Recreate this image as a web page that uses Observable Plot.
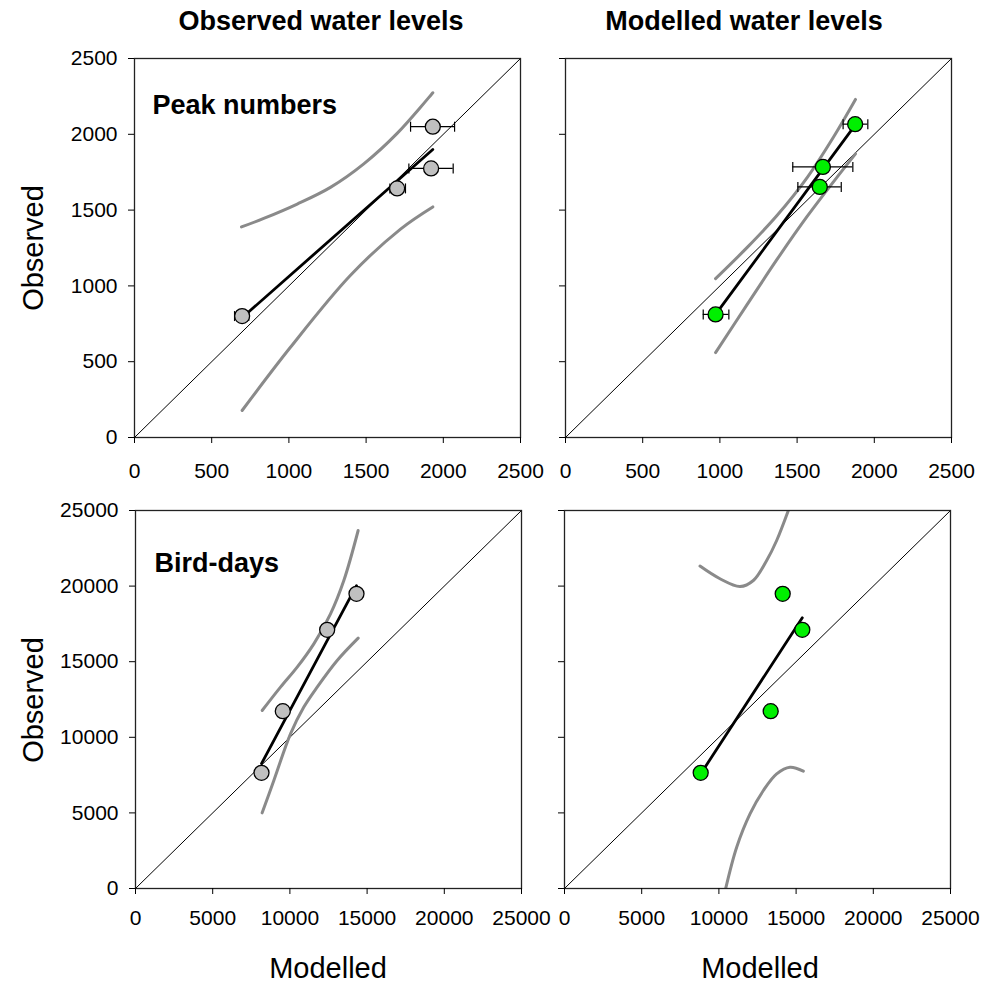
<!DOCTYPE html>
<html>
<head>
<meta charset="utf-8">
<script src="https://cdn.jsdelivr.net/npm/d3@7"></script>
<script src="https://cdn.jsdelivr.net/npm/@observablehq/plot@0.6"></script>
<style>
  body { margin: 0; background: #fff; }
  #chart { position: relative; width: 995px; height: 983px; font-family: "Liberation Sans", Arial, sans-serif; }
  #chart svg { position: absolute; overflow: visible; max-width: none; }
  #chart svg g[aria-label="x-axis tick label"] text,
  #chart svg g[aria-label="y-axis tick label"] text { font-size: 21px; }
</style>
</head>
<body>
<div id="chart"></div>
<script>
// ---------- axis definitions ----------
const domainTop = [0, 2500];
const domainBottom = [0, 25000];
const ticksTop = [0, 500, 1000, 1500, 2000, 2500];
const ticksBottom = [0, 5000, 10000, 15000, 20000, 25000];

// ---------- Peak numbers, observed water levels ----------
const peakObsX = [697, 1701, 1921, 1932];
const peakObsY = [801, 1643, 1775, 2050];
const peakObsErrLo = [648, 1654, 1777, 1788];
const peakObsErrHi = [740, 1755, 2064, 2073];
const peakObsRegX = [697, 1932];
const peakObsRegY = [790, 1900];
const peakObsUpperX = [693, 837, 1054, 1269, 1485, 1701, 1932];
const peakObsUpperY = [1389, 1445, 1540, 1650, 1805, 2006, 2274];
const peakObsLowerX = [697, 1010, 1399, 1723, 1932];
const peakObsLowerY = [178, 595, 1070, 1375, 1521];

// ---------- Peak numbers, modelled water levels ----------
const peakModX = [972, 1647, 1667, 1876];
const peakModY = [812, 1653, 1785, 2067];
const peakModErrLo = [892, 1505, 1472, 1798];
const peakModErrHi = [1058, 1786, 1861, 1958];
const peakModRegX = [972, 1876];
const peakModRegY = [812, 2060];
const peakModUpperX = [972, 1177, 1371, 1565, 1738, 1878];
const peakModUpperY = [1048, 1254, 1466, 1715, 1986, 2230];
const peakModLowerX = [972, 1177, 1371, 1565, 1738, 1878];
const peakModLowerY = [560, 878, 1176, 1458, 1690, 1871];

// ---------- Bird-days, observed water levels ----------
const birdObsX = [8161, 9540, 12414, 14313];
const birdObsY = [7652, 11726, 17110, 19490];
const birdObsRegX = [8161, 14313];
const birdObsRegY = [8258, 20028];
const birdObsUpperX = [8204, 9391, 10471, 11550, 12630, 13493, 14421];
const birdObsUpperY = [11772, 13316, 14638, 16181, 18165, 20370, 23677];
const birdObsLowerX = [8204, 8960, 10039, 10902, 11766, 13061, 14421];
const birdObsLowerY = [5004, 7143, 10229, 11997, 13316, 15079, 16557];

// ---------- Bird-days, modelled water levels ----------
const birdModX = [8821, 13355, 14132, 15402];
const birdModY = [7652, 11726, 19490, 17110];
const birdModRegX = [8821, 15402];
const birdModRegY = [7581, 17902];
const birdModUpperX = [8776, 10071, 11367, 12230, 13094, 13742, 14497];
const birdModUpperY = [21323, 20485, 19974, 20370, 21693, 23016, 25000];
const birdModLowerX = [10439, 11151, 12015, 12879, 13742, 14606, 15469];
const birdModLowerY = [0, 2734, 4938, 6481, 7584, 8025, 7760];

// ---------- text ----------
const columnTitles = ["Observed water levels", "Modelled water levels"];
const panelLabels = ["Peak numbers", "Bird-days"];
const yLabel = "Observed";
const xLabel = "Modelled";

const GRAY_FILL = "#c0c0c0";
const GREEN_FILL = "#00f000";
const FONT = "Liberation Sans, Arial, sans-serif";

const capSymbol = {
  draw(ctx, size) {
    const h = Math.sqrt(size / Math.PI);
    ctx.moveTo(0, -h);
    ctx.lineTo(0, h);
  }
};

const zipXY = (xs, ys) => xs.map((x, i) => ({x, y: ys[i]}));

function panel(o) {
  const pts = o.px.map((x, i) => ({
    x, y: o.py[i],
    lo: o.errLo ? o.errLo[i] : null,
    hi: o.errHi ? o.errHi[i] : null
  }));
  const diag = o.domain.map(v => ({x: v, y: v}));
  const marks = [
    Plot.line(diag, {x: "x", y: "y", stroke: "black", strokeWidth: 1}),
    Plot.line(zipXY(o.upX, o.upY), {x: "x", y: "y", stroke: "#8a8a8a", strokeWidth: 3, curve: "catmull-rom", clip: true}),
    Plot.line(zipXY(o.loX, o.loY), {x: "x", y: "y", stroke: "#8a8a8a", strokeWidth: 3, curve: "catmull-rom", clip: true}),
    Plot.line(zipXY(o.regX, o.regY), {x: "x", y: "y", stroke: "black", strokeWidth: 2.8})
  ];
  if (o.errLo) {
    marks.push(Plot.ruleY(pts, {y: "y", x1: "lo", x2: "hi", stroke: "black", strokeWidth: 1.2}));
    marks.push(Plot.dot(pts, {x: "lo", y: "y", symbol: capSymbol, r: 5, stroke: "black", strokeWidth: 1.2, fill: "none"}));
    marks.push(Plot.dot(pts, {x: "hi", y: "y", symbol: capSymbol, r: 5, stroke: "black", strokeWidth: 1.2, fill: "none"}));
  }
  marks.push(Plot.dot(pts, {x: "x", y: "y", r: 7.5, fill: o.fill, stroke: "black", strokeWidth: 1.3}));
  marks.push(Plot.frame({stroke: "#222", strokeWidth: 1.3}));
  marks.push(Plot.axisX({ticks: o.ticks, tickSize: 6, tickPadding: o.tickPadX, tickFormat: d => String(d), fontSize: 21, label: null}));
  marks.push(Plot.axisY({ticks: o.ticks, tickSize: 6, tickPadding: 11,
    tickFormat: o.showY ? (d => String(d)) : (() => ""), fontSize: 21, label: null}));
  if (o.label) {
    marks.push(Plot.text([o.label], {text: d => d, frameAnchor: "top-left", dx: o.labelDx, dy: o.labelDy,
      textAnchor: "start", lineAnchor: "bottom", fontSize: 27, fontWeight: "bold", fill: "black"}));
  }
  const svg = Plot.plot({
    width: o.width, height: o.height,
    marginLeft: o.ml, marginRight: o.mr, marginTop: o.mt, marginBottom: o.mb,
    x: {domain: o.domain, nice: false},
    y: {domain: o.domain, nice: false},
    style: {fontFamily: FONT, fontSize: "21px", color: "black", background: "transparent", overflow: "visible"},
    marks
  });
  svg.style.left = o.left + "px";
  svg.style.top = o.top + "px";
  document.getElementById("chart").appendChild(svg);
}

panel({left: 20, top: 48, width: 525, height: 441, ml: 114, mr: 25, mt: 10, mb: 52,
  domain: domainTop, ticks: ticksTop, tickPadX: 20, showY: true,
  px: peakObsX, py: peakObsY, errLo: peakObsErrLo, errHi: peakObsErrHi,
  regX: peakObsRegX, regY: peakObsRegY, upX: peakObsUpperX, upY: peakObsUpperY,
  loX: peakObsLowerX, loY: peakObsLowerY, fill: GRAY_FILL,
  label: panelLabels[0], labelDx: 18, labelDy: 55});

panel({left: 545, top: 48, width: 436, height: 441, ml: 20, mr: 30, mt: 10, mb: 52,
  domain: domainTop, ticks: ticksTop, tickPadX: 20, showY: false,
  px: peakModX, py: peakModY, errLo: peakModErrLo, errHi: peakModErrHi,
  regX: peakModRegX, regY: peakModRegY, upX: peakModUpperX, upY: peakModUpperY,
  loX: peakModLowerX, loY: peakModLowerY, fill: GREEN_FILL});

panel({left: 20, top: 490, width: 526, height: 448, ml: 115, mr: 25, mt: 20, mb: 50,
  domain: domainBottom, ticks: ticksBottom, tickPadX: 16, showY: true,
  px: birdObsX, py: birdObsY,
  regX: birdObsRegX, regY: birdObsRegY, upX: birdObsUpperX, upY: birdObsUpperY,
  loX: birdObsLowerX, loY: birdObsLowerY, fill: GRAY_FILL,
  label: panelLabels[1], labelDx: 19, labelDy: 61});

panel({left: 544, top: 490, width: 436, height: 448, ml: 20, mr: 30, mt: 20, mb: 50,
  domain: domainBottom, ticks: ticksBottom, tickPadX: 16, showY: false,
  px: birdModX, py: birdModY,
  regX: birdModRegX, regY: birdModRegY, upX: birdModUpperX, upY: birdModUpperY,
  loX: birdModLowerX, loY: birdModLowerY, fill: GREEN_FILL});

// ---------- overlay titles and axis labels ----------
const ov = d3.select("#chart").append("svg")
  .attr("width", 995).attr("height", 983)
  .style("left", "0px").style("top", "0px")
  .style("pointer-events", "none")
  .attr("font-family", FONT);

ov.append("text").attr("x", 321).attr("y", 30).attr("text-anchor", "middle")
  .attr("font-size", 27).attr("font-weight", "bold").text(columnTitles[0]);
ov.append("text").attr("x", 744).attr("y", 30).attr("text-anchor", "middle")
  .attr("font-size", 27).attr("font-weight", "bold").text(columnTitles[1]);

[248, 700].forEach(cy => {
  ov.append("text").attr("transform", `translate(43,${cy}) rotate(-90)`)
    .attr("text-anchor", "middle").attr("font-size", 29).text(yLabel);
});
[328, 760].forEach(cx => {
  ov.append("text").attr("x", cx).attr("y", 978).attr("text-anchor", "middle")
    .attr("font-size", 29).text(xLabel);
});
</script>
</body>
</html>
